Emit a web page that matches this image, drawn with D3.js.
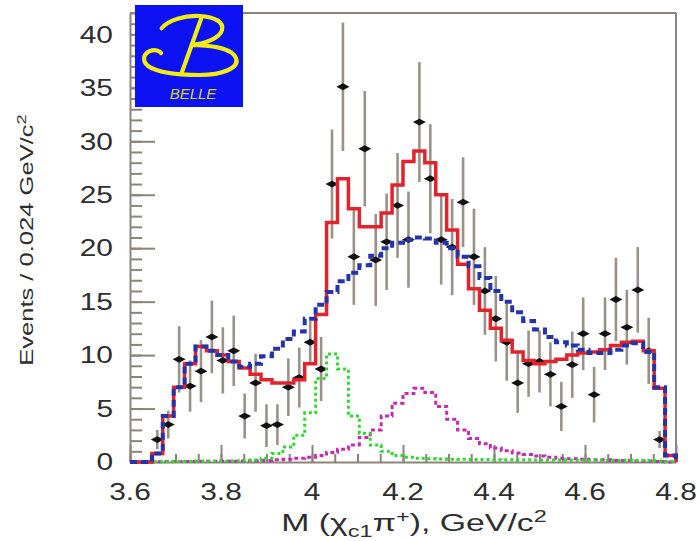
<!DOCTYPE html>
<html>
<head>
<meta charset="utf-8">
<script src="https://cdn.jsdelivr.net/npm/d3@7"></script>
<style>
html, body { margin: 0; padding: 0; background: #fff; }
svg { display: block; font-family: "Liberation Sans", Arial, sans-serif; }
</style>
</head>
<body>
<svg id="chart" width="700" height="541"></svg>
<script>
// bin centres of M(chi_c1 pi+) in GeV/c^2, bins of 0.024
const BIN_W = 0.024;
const binCenters = [3.612, 3.636, 3.660, 3.684, 3.708, 3.732, 3.756, 3.780, 3.804, 3.828,
    3.852, 3.876, 3.900, 3.924, 3.948, 3.972, 3.996, 4.020, 4.044, 4.068,
    4.092, 4.116, 4.140, 4.164, 4.188, 4.212, 4.236, 4.260, 4.284, 4.308,
    4.332, 4.356, 4.380, 4.404, 4.428, 4.452, 4.476, 4.500, 4.524, 4.548,
    4.572, 4.596, 4.620, 4.644, 4.668, 4.692, 4.716, 4.740, 4.764, 4.788];

// data points (null = no point drawn)
const events = [null, null, 2.1, 3.5, 9.6, 7.1, 8.5, 11.7, 9.5, 10.4,
    4.3, 7.4, 3.4, 3.5, 7.0, 7.9, 11.2, 8.7, 26.0, 35.1,
    19.2, 29.3, 18.9, 20.6, 24.0, 20.8, 31.8, 26.5, 20.8, 20.1,
    24.3, 19.2, 16.0, 13.4, 11.2, 7.4, 9.2, 9.4, 8.2, 5.2,
    9.1, 12.0, 6.3, 12.0, 15.2, 12.6, 16.1, 10.4, 2.1, null];
const eventErrors = [null, null, 0.9, 1.3, 3.1, 2.4, 2.9, 3.4, 3.1, 3.3,
    2.1, 2.7, 2.0, 1.9, 2.7, 2.8, 2.0, 3.0, 5.1, 6.0,
    4.5, 5.4, 4.3, 4.5, 4.9, 4.5, 5.6, 5.1, 4.2, 4.5,
    4.2, 4.5, 4.1, 4.0, 3.6, 2.8, 3.1, 2.9, 3.0, 2.3,
    3.1, 3.4, 2.6, 3.4, 3.9, 3.5, 4.0, 3.1, 0.8, null];

// fit histograms
const totalFit = [0, 0, 0.8, 4.3, 7.0, 9.2, 10.8, 10.4, 10.0, 9.4,
    8.8, 8.2, 7.7, 7.4, 7.4, 7.7, 9.2, 13.8, 22.4, 26.5,
    23.7, 22.0, 22.0, 23.3, 25.9, 28.1, 29.1, 28.0, 25.0, 21.7,
    18.5, 16.2, 14.2, 12.5, 11.4, 10.3, 9.5, 9.2, 9.4, 9.6,
    10.0, 10.2, 10.3, 10.5, 10.9, 11.2, 11.3, 10.4, 6.9, 0.6];
const backgroundFit = [0, 0, 0.8, 4.3, 7.0, 9.2, 10.8, 10.4, 10.0, 9.4,
    8.9, 9.2, 9.9, 10.6, 11.5, 12.2, 13.4, 14.7, 15.9, 16.9,
    17.7, 18.4, 19.3, 20.0, 20.5, 20.8, 21.0, 20.9, 20.5, 20.0,
    19.2, 18.3, 17.2, 16.0, 15.0, 14.0, 13.2, 12.4, 11.7, 11.2,
    10.9, 10.5, 10.2, 10.2, 10.5, 10.9, 11.1, 10.3, 7.0, 0.6];
const z1Signal = [0, 0, 0.02, 0.03, 0.04, 0.05, 0.06, 0.07, 0.08, 0.1,
    0.12, 0.18, 0.35, 0.8, 1.4, 2.5, 4.6, 7.8, 10.1, 8.7,
    4.3, 2.7, 1.6, 1.0, 0.6, 0.45, 0.35, 0.3, 0.28, 0.26,
    0.25, 0.24, 0.23, 0.22, 0.21, 0.2, 0.2, 0.19, 0.18, 0.18,
    0.17, 0.17, 0.16, 0.16, 0.15, 0.15, 0.14, 0.13, 0.1, 0.05];
const z2Signal = [0, 0, 0.03, 0.04, 0.05, 0.05, 0.06, 0.06, 0.07, 0.08,
    0.1, 0.12, 0.15, 0.2, 0.25, 0.35, 0.45, 0.6, 0.9, 1.2,
    1.6, 2.3, 3.0, 4.3, 5.5, 6.4, 6.9, 6.5, 5.2, 4.0,
    3.0, 2.2, 1.7, 1.3, 1.05, 0.85, 0.7, 0.55, 0.45, 0.35,
    0.3, 0.25, 0.2, 0.2, 0.15, 0.15, 0.1, 0.1, 0.05, 0];

const xTickLabels = ['3.6', '3.8', '4', '4.2', '4.4', '4.6', '4.8'];
const yTickLabels = ['0', '5', '10', '15', '20', '25', '30', '35', '40'];

const svg = d3.select('#chart');
const frameColor = '#8c8478';

const x = d3.scaleLinear().domain([3.6, 4.8]).range([130, 676]);
const y = d3.scaleLinear().domain([0, 42]).range([462, 13]);

// minor ticks
svg.append('g')
    .attr('transform', 'translate(130,0)')
    .call(d3.axisRight(y).ticks(42).tickSize(12).tickSizeOuter(0).tickFormat(''))
    .call(g => g.select('.domain').remove());
svg.append('g')
    .attr('transform', 'translate(0,462)')
    .call(d3.axisTop(x).ticks(24).tickSize(8).tickSizeOuter(0).tickFormat(''))
    .call(g => g.select('.domain').remove());
// major ticks + axis lines
svg.append('g')
    .attr('transform', 'translate(130,0)')
    .call(d3.axisRight(y).tickValues(yTickLabels.map(Number)).tickSize(25).tickSizeOuter(0).tickFormat(''));
svg.append('g')
    .attr('transform', 'translate(0,462)')
    .call(d3.axisTop(x).tickValues(xTickLabels.map(Number)).tickSize(17).tickSizeOuter(0).tickFormat(''));
svg.selectAll('.tick line, .domain')
    .attr('stroke', frameColor)
    .attr('stroke-width', 2);

// top and right frame
svg.append('line').attr('x1', x(3.6)).attr('x2', x(4.8)).attr('y1', y(42)).attr('y2', y(42))
    .attr('stroke', frameColor).attr('stroke-width', 2);
svg.append('line').attr('x1', x(4.8)).attr('x2', x(4.8)).attr('y1', y(42)).attr('y2', y(0))
    .attr('stroke', frameColor).attr('stroke-width', 2);

// tick labels (font drawn wide like the original)
svg.append('g').selectAll('text')
    .data(yTickLabels)
    .join('text')
    .attr('transform', d => `translate(113,${y(+d)}) scale(1.3,1)`)
    .attr('text-anchor', 'end')
    .attr('dy', '0.36em')
    .attr('font-size', 23)
    .attr('fill', '#2e2e2e')
    .text(d => d);
svg.append('g').selectAll('text')
    .data(xTickLabels)
    .join('text')
    .attr('transform', d => `translate(${x(+d)},500) scale(1.3,1)`)
    .attr('text-anchor', 'middle')
    .attr('font-size', 23)
    .attr('fill', '#2e2e2e')
    .text(d => d);

// axis titles
const xTitle = svg.append('text')
    .attr('transform', 'translate(414,531) scale(1.47,1)')
    .attr('text-anchor', 'middle')
    .attr('font-size', 23)
    .attr('fill', '#2e2e2e');
xTitle.append('tspan').text('M (χ');
xTitle.append('tspan').attr('font-size', 16).attr('dy', 6).text('c1');
xTitle.append('tspan').attr('dy', -6).text('π');
xTitle.append('tspan').attr('font-size', 16).attr('dy', -9).text('+');
xTitle.append('tspan').attr('dy', 9).text('), GeV/c');
xTitle.append('tspan').attr('font-size', 16).attr('dy', -9).text('2');

const yTitle = svg.append('text')
    .attr('transform', 'translate(33,240) rotate(-90) scale(1.42,1)')
    .attr('text-anchor', 'middle')
    .attr('font-size', 18)
    .attr('fill', '#2e2e2e');
yTitle.append('tspan').text('Events / 0.024 GeV/c');
yTitle.append('tspan').attr('font-size', 13).attr('dy', -7).text('2');

// data points with error bars
const pts = binCenters.map((c, i) => ({ c, v: events[i], e: eventErrors[i] })).filter(d => d.v !== null);
const pointG = svg.append('g');
pointG.selectAll('line')
    .data(pts)
    .join('line')
    .attr('x1', d => x(d.c)).attr('x2', d => x(d.c))
    .attr('y1', d => y(d.v - d.e)).attr('y2', d => y(d.v + d.e))
    .attr('stroke', '#9a9286')
    .attr('stroke-width', 2.6);
pointG.selectAll('path')
    .data(pts)
    .join('path')
    .attr('transform', d => `translate(${x(d.c)},${y(d.v)})`)
    .attr('d', 'M-6.5,0L0,-3.4L6.5,0L0,3.4Z')
    .attr('fill', '#111');

// step histograms
function histPath(vals) {
    const p = vals.map((v, i) => [binCenters[i] - BIN_W / 2, v]);
    const end = binCenters[binCenters.length - 1] + BIN_W / 2;
    p.unshift([binCenters[0] - BIN_W / 2, 0]);
    p.push([end, vals[vals.length - 1]], [end, 0]);
    return d3.line().x(d => x(d[0])).y(d => y(d[1])).curve(d3.curveStepAfter)(p);
}

svg.append('path').attr('d', histPath(z2Signal))
    .attr('fill', 'none').attr('stroke', '#c42ab2').attr('stroke-width', 3)
    .attr('stroke-dasharray', '4,3');
svg.append('path').attr('d', histPath(z1Signal))
    .attr('fill', 'none').attr('stroke', '#2fd82f').attr('stroke-width', 3)
    .attr('stroke-dasharray', '3,3');
svg.append('path').attr('d', histPath(totalFit))
    .attr('fill', 'none').attr('stroke', '#e3232b').attr('stroke-width', 3.5);
svg.append('path').attr('d', histPath(backgroundFit))
    .attr('fill', 'none').attr('stroke', '#2434a8').attr('stroke-width', 4)
    .attr('stroke-dasharray', '7,4');

// Belle logo
const logo = svg.append('g');
logo.append('rect')
    .attr('x', 135).attr('y', 5).attr('width', 108).attr('height', 102)
    .attr('fill', '#0c12f2');
logo.append('path')
    .attr('d', 'M161.7,28.3 C168,20 185,15 200,16 C215,17 224,22 222,30 C220,38 205,44 190,45 ' +
        'C210,45 232,48 236,58 C240,68 222,75 200,75 C178,75 158,73 148,66 ' +
        'C142,61 143,54 150,51 C155,49 160,51 161,53 M201,19 L182,72')
    .attr('fill', 'none')
    .attr('stroke', '#f2ee10')
    .attr('stroke-width', 4.2)
    .attr('stroke-linecap', 'round');
logo.append('text')
    .attr('x', 193).attr('y', 99)
    .attr('text-anchor', 'middle')
    .attr('font-size', 15)
    .attr('font-style', 'italic')
    .attr('fill', '#d8d41c')
    .text('BELLE');
</script>
</body>
</html>
